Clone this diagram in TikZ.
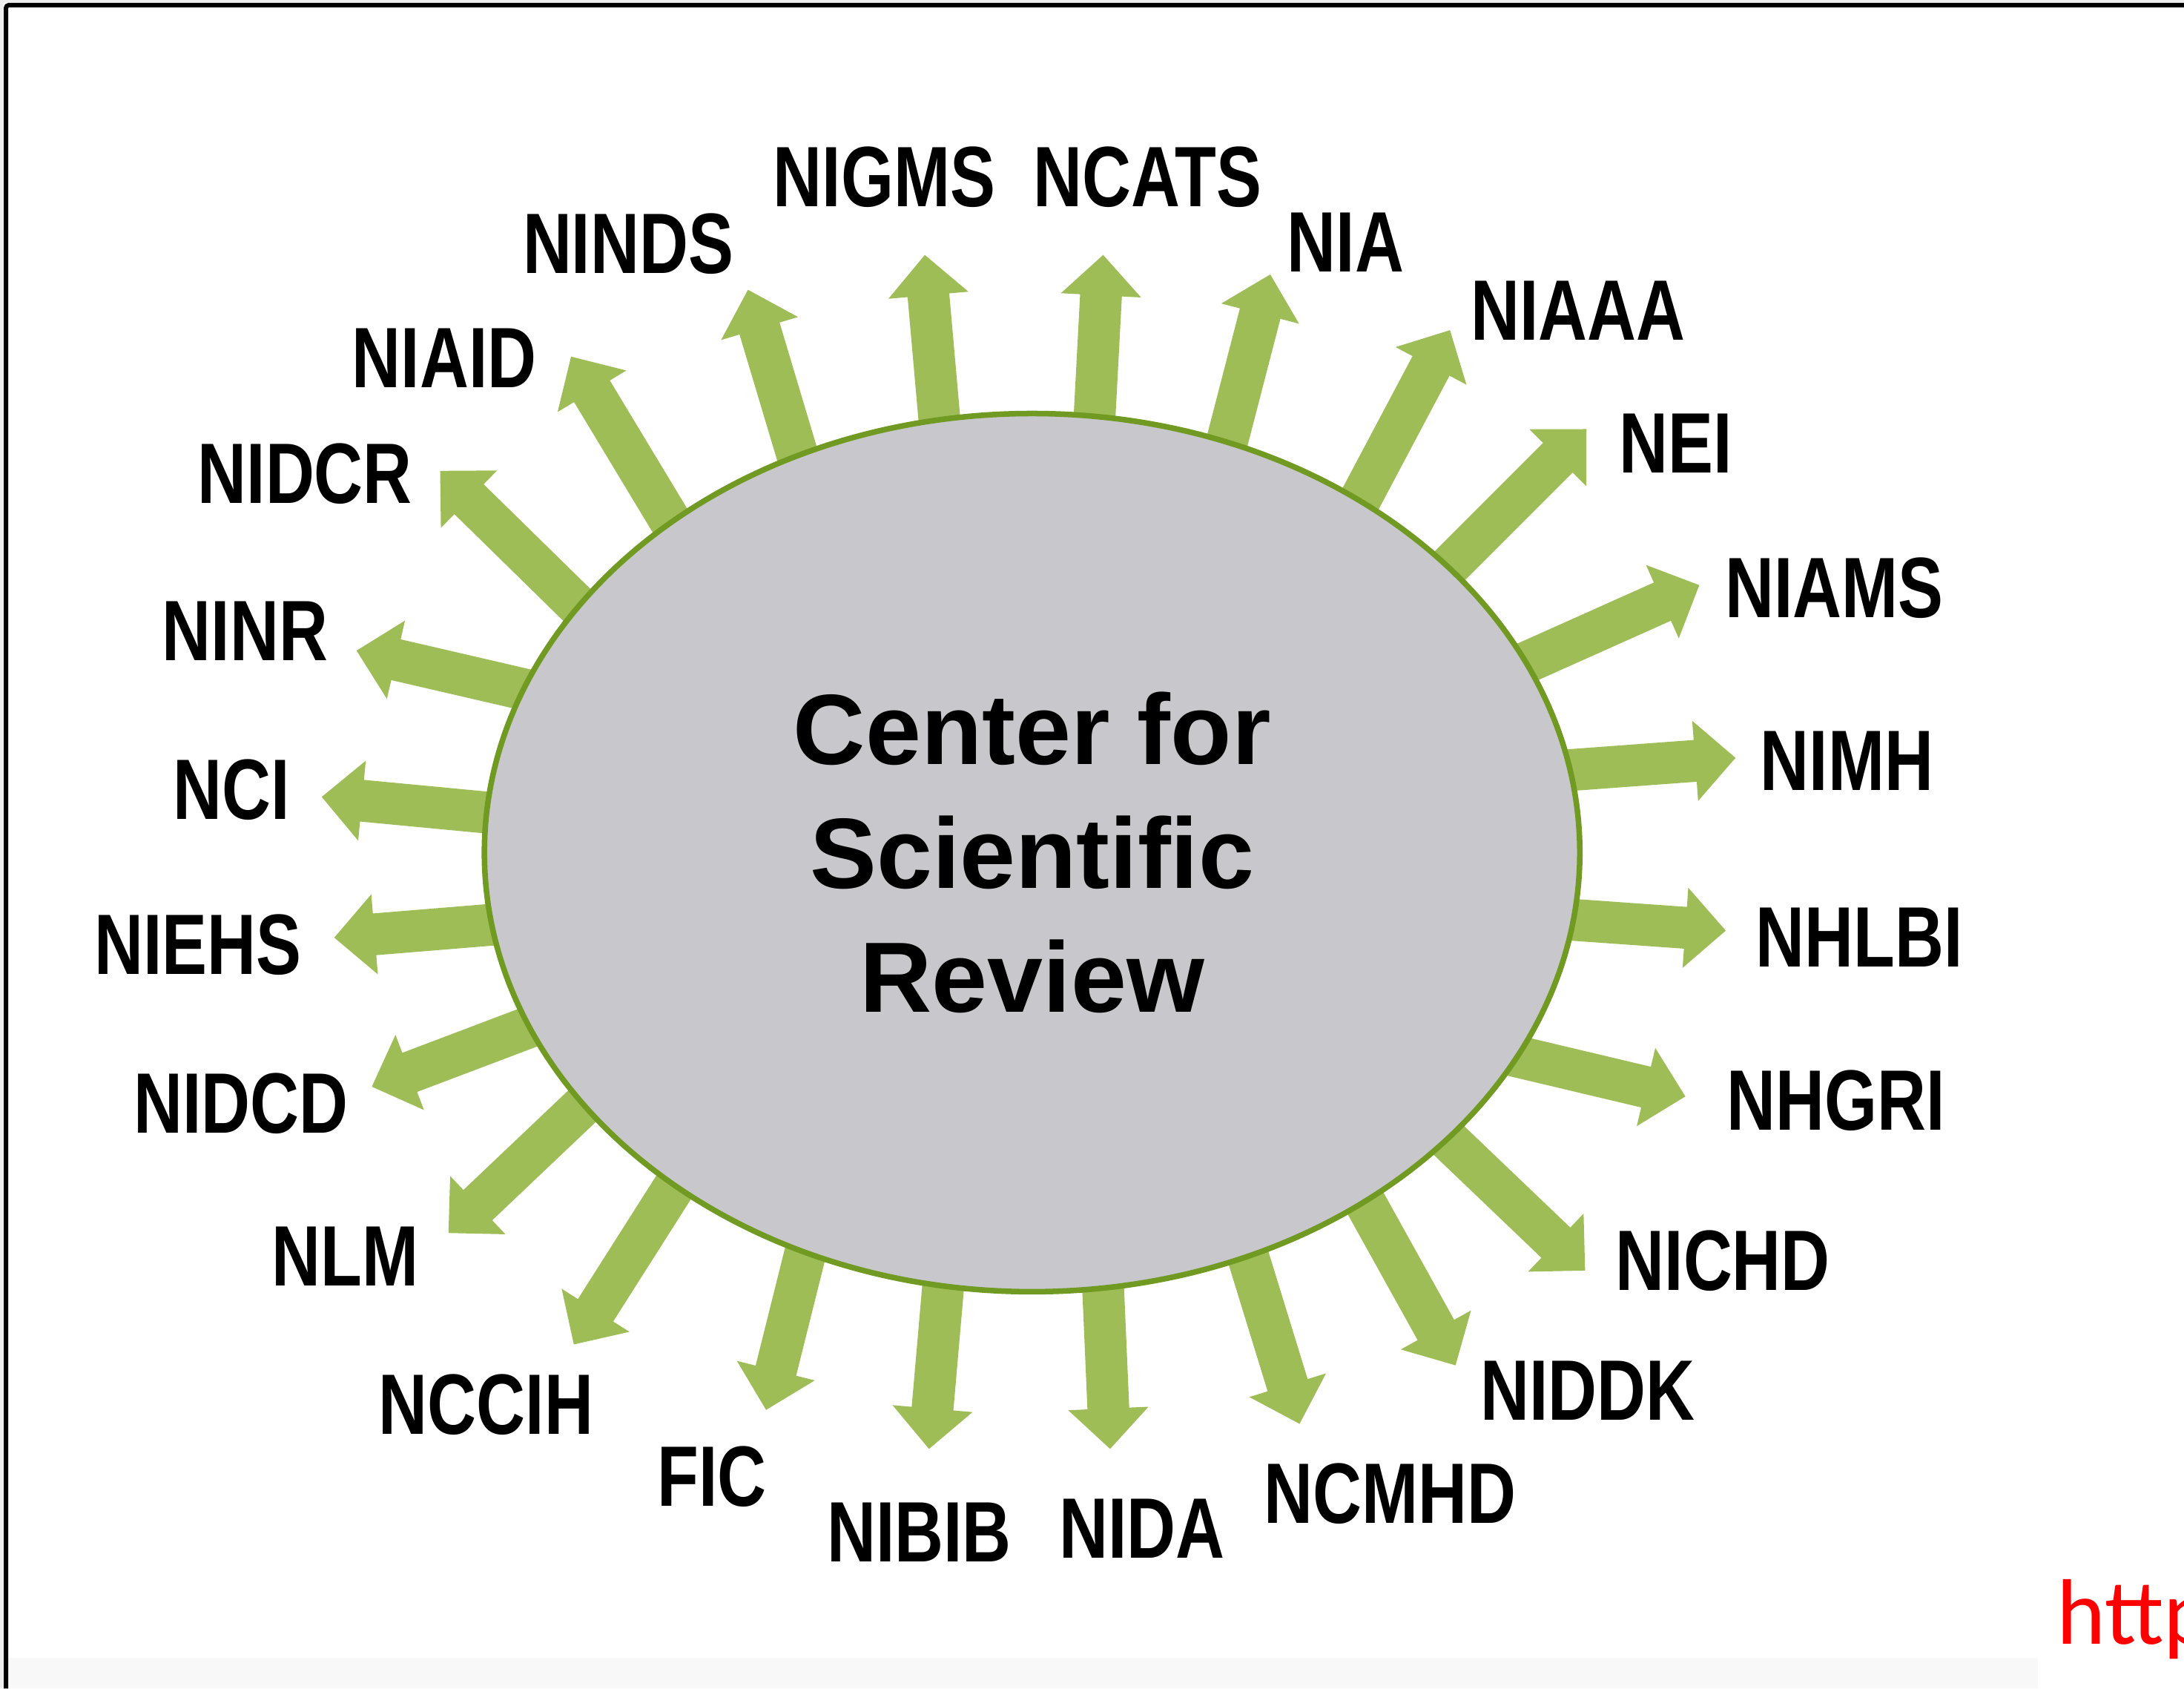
\documentclass[tikz,border=0pt]{standalone}
\usepackage{fontspec}
\setmainfont{Liberation Sans}
\newfontfamily\labfont{Liberation Sans Bold}[FakeStretch=0.79]
\newfontfamily\cfont{Liberation Sans Bold}
\newfontfamily\urlfont{Carlito}
\usetikzlibrary{shapes.geometric,calc}
\definecolor{agreen}{RGB}{158,189,87}
\definecolor{egreen}{RGB}{112,154,34}
\definecolor{egray}{RGB}{200,200,204}
\definecolor{edgegray}{RGB}{238,238,238}
\definecolor{botgray}{RGB}{248,248,248}
% block arrow from base coordinate #1 to tip coordinate #2
\newcommand\garrow[2]{%
  \path ($(#2)!1.18!(#1)$) coordinate (gA) ($(#2)!0.29cm!(#1)$) coordinate (gN);
  \fill[agreen] ($(gA)!0.15cm!90:(#2)$) -- ($(gN)!0.15cm!90:(#2)$)
     -- ($(gN)!0.288cm!90:(#2)$) -- (#2) -- ($(gN)!0.288cm!-90:(#2)$)
     -- ($(gN)!0.15cm!-90:(#2)$) -- ($(gA)!0.15cm!-90:(#2)$) -- cycle;}
\begin{document}
\begin{tikzpicture}[x=0.01cm,y=-0.01cm,
  lab/.style={font=\labfont\fontsize{17.5pt}{20pt}\selectfont, inner sep=0pt, anchor=center, text=black},
  border/.style={line width=0.032cm, draw=black}]
\useasboundingbox (0,0) rectangle (1568,1212);
\clip (0,0) rectangle (1568,1212);
\fill[white] (0,0) rectangle (1568,1212);
\fill[botgray] (0,1190) rectangle (1463,1212);
\fill[edgegray] (0,0) rectangle (2.7,1212);
\fill[edgegray] (0,0) rectangle (1568,2.1);
\draw[border, rounded corners=0.02cm] (4.3,1212) -- (4.3,3.7) -- (1568,3.7);

% arrow coordinates: b = base at ellipse, t = tip
\coordinate (b1) at (674,296);   \coordinate (t1) at (664,183);   % NIGMS
\coordinate (b2) at (786,296);   \coordinate (t2) at (792,183);   % NCATS
\coordinate (b3) at (883,309);   \coordinate (t3) at (912,197);   % NIA
\coordinate (b4) at (980,352);   \coordinate (t4) at (1041,237);  % NIAAA
\coordinate (b5) at (1045,402);  \coordinate (t5) at (1139,308);  % NEI
\coordinate (b6) at (1097,475);  \coordinate (t6) at (1220,420);  % NIAMS
\coordinate (b7) at (1124,553);  \coordinate (t7) at (1246,544);  % NIMH
\coordinate (b8) at (1126,660);  \coordinate (t8) at (1239,668);  % NHLBI
\coordinate (b9) at (1092,759);  \coordinate (t9) at (1210,787);  % NHGRI
\coordinate (b10) at (1048,826); \coordinate (t10) at (1138,912); % NICHD
\coordinate (b11) at (985,872);  \coordinate (t11) at (1045,980); % NIDDK
\coordinate (b12) at (897,905);  \coordinate (t12) at (933,1022); % NCMHD
\coordinate (b13) at (792,925);  \coordinate (t13) at (797,1040); % NIDA
\coordinate (b14) at (677,925);  \coordinate (t14) at (667,1040); % NIBIB
\coordinate (b15) at (578,900);  \coordinate (t15) at (550,1012); % FIC
\coordinate (b16) at (480,858);  \coordinate (t16) at (412,965);  % NCCIH
\coordinate (b17) at (420,792);  \coordinate (t17) at (322,885);  % NLM
\coordinate (b18) at (378,738);  \coordinate (t18) at (267,780);  % NIDCD
\coordinate (b19) at (350,664);  \coordinate (t19) at (240,673);  % NIEHS
\coordinate (b20) at (347,583);  \coordinate (t20) at (231,572);  % NCI
\coordinate (b21) at (377,495);  \coordinate (t21) at (256,467);  % NINR
\coordinate (b22) at (415,435);  \coordinate (t22) at (316,338);  % NIDCR
\coordinate (b23) at (480,372);  \coordinate (t23) at (410,256);  % NIAID
\coordinate (b24) at (572,325);  \coordinate (t24) at (537,208);  % NINDS

\foreach \i in {1,...,24} {\garrow{b\i}{t\i}}

\node[ellipse, draw=egreen, fill=egray, line width=0.04cm,
      minimum width=7.86cm, minimum height=6.30cm, inner sep=0pt,
      align=center, font=\cfont\fontsize{20.4pt}{25.3pt}\selectfont]
      (csr) at (741,612) {Center for\\Scientific\\Review};

\node[lab] (l1) at (635,127) {NIGMS};
\node[lab] (l2) at (824,127) {NCATS};
\node[lab] (l3) at (966,174) {NIA};
\node[lab] (l4) at (1133,223) {NIAAA};
\node[lab] (l5) at (1203,318) {NEI};
\node[lab] (l6) at (1317,422) {NIAMS};
\node[lab] (l7) at (1326,546) {NIMH};
\node[lab] (l8) at (1335,673) {NHLBI};
\node[lab] (l9) at (1318,790) {NHGRI};
\node[lab] (l10) at (1237,905) {NICHD};
\node[lab] (l11) at (1140,998) {NIDDK};
\node[lab] (l12) at (998,1072) {NCMHD};
\node[lab] (l13) at (820,1097) {NIDA};
\node[lab] (l14) at (660,1100) {NIBIB};
\node[lab] (l15) at (511,1060) {FIC};
\node[lab] (l16) at (349,1008) {NCCIH};
\node[lab] (l17) at (248,902) {NLM};
\node[lab] (l18) at (173,792) {NIDCD};
\node[lab] (l19) at (142,678) {NIEHS};
\node[lab] (l20) at (166,567) {NCI};
\node[lab] (l21) at (176,453) {NINR};
\node[lab] (l22) at (219,340) {NIDCR};
\node[lab] (l23) at (319,257) {NIAID};
\node[lab] (l24) at (451,175) {NINDS};

\node[anchor=base west, inner sep=0pt, text=red,
      font=\urlfont\fontsize{19pt}{22pt}\selectfont] (url) at (1476,1180) {http};
\end{tikzpicture}
\end{document}
